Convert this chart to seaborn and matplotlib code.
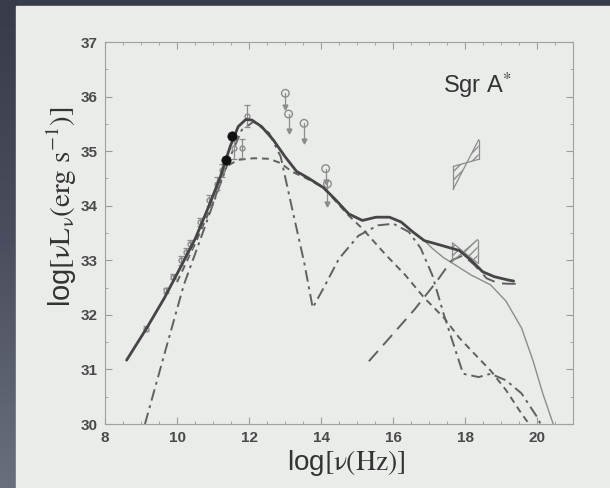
import numpy as np
import pandas as pd
import matplotlib
matplotlib.use("Agg")
import matplotlib.pyplot as plt
from matplotlib.patches import Rectangle, Polygon
from matplotlib.colors import LinearSegmentedColormap
import seaborn as sns

# ---------------- data ----------------
tot_x = [8.60, 9.16, 9.65, 10.08, 10.51, 10.89, 11.21, 11.48, 11.70, 11.91, 12.08, 12.35,
         12.67, 13.0, 13.32, 13.64, 14.07, 14.39, 14.77, 15.15, 15.53, 15.90, 16.23, 16.55,
         16.87, 17.20, 17.52, 17.84, 18.17, 18.49, 18.81, 19.19, 19.35]
tot_y = [31.17, 31.76, 32.31, 32.85, 33.40, 34.0, 34.54, 35.09, 35.45, 35.58, 35.57, 35.45,
         35.21, 34.9, 34.63, 34.51, 34.33, 34.12, 33.85, 33.73, 33.79, 33.79, 33.70, 33.52,
         33.36, 33.30, 33.24, 33.18, 33.0, 32.79, 32.70, 32.64, 32.62]

thin_x = [16.55, 16.87, 17.09, 17.40, 17.74, 18.17, 18.71, 19.14, 19.57, 19.89, 20.16, 20.45]
thin_y = [33.52, 33.36, 33.22, 33.05, 32.91, 32.73, 32.55, 32.25, 31.76, 31.16, 30.56, 30.0]

ld_x = [15.33, 16.0, 16.6, 17.2, 17.63, 17.95, 18.27, 18.6, 18.92, 19.2, 19.45]
ld_y = [31.15, 31.65, 32.1, 32.6, 33.0, 33.09, 32.91, 32.67, 32.58, 32.57, 32.57]

sd_x = [10.0, 10.5, 11.0, 11.37, 11.7, 12.13, 12.56, 12.88, 13.2, 13.6, 14.07, 14.77,
        15.15, 15.8, 16.34, 16.87, 17.41, 17.84, 18.27, 18.71, 19.14, 19.57, 19.78]
sd_y = [32.6, 33.3, 34.05, 34.72, 34.84, 34.87, 34.86, 34.78, 34.62, 34.5, 34.33, 33.82,
        33.58, 33.1, 32.73, 32.31, 31.95, 31.58, 31.28, 30.98, 30.62, 30.19, 30.0]

dd_x = [9.11, 9.65, 10.19, 10.62, 11.05, 11.48, 11.8, 12.13, 12.56, 12.88, 13.2, 13.53,
        13.77, 14.07, 14.5, 15.04, 15.58, 16.01, 16.44, 16.77, 17.09, 17.41, 17.74, 17.95,
        18.38, 18.71, 19.14, 19.57, 20.0, 20.1]
dd_y = [30.0, 31.28, 32.55, 33.33, 34.12, 34.9, 35.39, 35.54, 35.33, 34.9, 33.94, 32.97,
        32.13, 32.49, 33.03, 33.45, 33.64, 33.67, 33.52, 33.22, 32.73, 32.01, 31.34, 30.92,
        30.86, 30.92, 30.8, 30.56, 30.13, 30.0]

# radio / submm measurements with error bars
obs_x = [9.15, 9.7, 9.9, 10.1, 10.25, 10.35, 10.65, 10.9, 11.1, 11.25, 11.58, 11.8, 11.94]
obs_y = [31.75, 32.45, 32.7, 33.0, 33.15, 33.3, 33.7, 34.1, 34.4, 34.65, 35.05, 35.05, 35.65]
obs_err = [0.05, 0.05, 0.05, 0.08, 0.08, 0.08, 0.08, 0.1, 0.12, 0.12, 0.2, 0.18, 0.2]

# filled points
fill_x = [11.37, 11.53]
fill_y = [34.84, 35.27]

# upper limits (open circles with arrows)
ul_x = [13.01, 13.10, 13.53, 14.13, 14.18]
ul_y = [36.06, 35.68, 35.51, 34.68, 34.40]
ul_len = [0.25, 0.32, 0.32, 0.25, 0.37]

# X-ray bowties: left x, right x, left (low, high), right (low, high)
bow_xl = [17.67, 17.65]
bow_xr = [18.38, 18.35]
bow_yl = [(34.30, 34.72), (32.98, 33.32)]
bow_yr = [(34.85, 35.21), (32.95, 33.38)]

x_ticks = [8, 10, 12, 14, 16, 18, 20]
y_ticks = [30, 31, 32, 33, 34, 35, 36, 37]

# ---------------- figure ----------------
sns.set_theme(style="ticks")
plt.rcParams["font.family"] = ["Liberation Sans", "DejaVu Sans"]
plt.rcParams["mathtext.fontset"] = "stix"

W, H = 6.1, 4.88
fig = plt.figure(figsize=(W, H), dpi=100)
fig.patch.set_facecolor("#3c3f4d")

# background gradient (dark slide) + light panel
bg = fig.add_axes([0, 0, 1, 1], zorder=-10)
grad = np.linspace(0, 1, 256).reshape(-1, 1)
cmap = LinearSegmentedColormap.from_list("bg", ["#383b49", "#4a4e5e", "#6a6f7d"])
bg.imshow(grad, aspect="auto", cmap=cmap, extent=[0, 1, 0, 1], origin="upper")
bg.set_xlim(0, 1); bg.set_ylim(0, 1); bg.axis("off")
bg.add_patch(Rectangle((16 / 610, 0), 1, 1 - 6 / 488, color="#e9ece9", zorder=2))

ax = fig.add_axes([105 / 610, (488 - 424) / 488, (573 - 105) / 610, (424 - 42) / 488])
ax.set_facecolor("#e9ece9")

dark = "#454545"
mid = "#606060"
light = "#8c8c8c"

sns.lineplot(x=tot_x, y=tot_y, ax=ax, color=dark, lw=2.0, sort=False, estimator=None, zorder=5)
sns.lineplot(x=thin_x, y=thin_y, ax=ax, color=light, lw=1.0, sort=False, estimator=None)
sns.lineplot(x=ld_x, y=ld_y, ax=ax, color=mid, lw=1.4, sort=False, estimator=None,
             linestyle=(0, (7, 4)))
sns.lineplot(x=sd_x, y=sd_y, ax=ax, color=mid, lw=1.4, sort=False, estimator=None,
             linestyle=(0, (3.5, 2.5)))
sns.lineplot(x=dd_x, y=dd_y, ax=ax, color=mid, lw=1.4, sort=False, estimator=None,
             linestyle=(0, (6, 2.5, 1.5, 2.5)))

# observations
ax.errorbar(obs_x, obs_y, yerr=obs_err, fmt="o", ms=3.5, mfc="none", mec=light, ecolor=light,
            elinewidth=0.9, capsize=2.5, capthick=0.9, zorder=4)
sns.scatterplot(x=fill_x, y=fill_y, ax=ax, color="#111111", s=45, edgecolor="#111111", zorder=6)

# upper limits
for x, y, L in zip(ul_x, ul_y, ul_len):
    ax.plot([x, x], [y, y - L], color=light, lw=0.9, zorder=4)
    ax.plot([x], [y - L], marker="v", ms=3.5, color=light, zorder=4)
sns.scatterplot(x=ul_x, y=ul_y, ax=ax, s=30, facecolor="none", edgecolor=light, linewidth=1.0, zorder=4)

# bowties
for xl, xr, (l0, l1), (r0, r1) in zip(bow_xl, bow_xr, bow_yl, bow_yr):
    ax.plot([xl, xl], [l0, l1], color=light, lw=0.9)
    ax.plot([xr, xr], [r0, r1], color=light, lw=0.9)
    ax.plot([xl, xr], [l0, r1], color=light, lw=0.9)
    ax.plot([xl, xr], [l1, r0], color=light, lw=0.9)
    poly = Polygon([[xl, l0], [xr, r1], [xr, r0], [xl, l1]], closed=True, fill=False,
                   hatch="////", edgecolor=light, lw=0)
    ax.add_patch(poly)

ax.text(17.4, 36.2, r"Sgr A$^{*}$", fontsize=17, color="#333333", ha="left", va="center")

ax.set_xlim(8, 21)
ax.set_ylim(30, 37)
ax.set_xticks(x_ticks)
ax.set_yticks(y_ticks)
ax.set_xticks(np.arange(8, 21.01, 0.5), minor=True)
ax.set_yticks(np.arange(30, 37.01, 0.5), minor=True)
ax.tick_params(which="both", direction="in", top=True, right=True, color="#9a9a9a",
               labelcolor="#4a4a4a")
ax.tick_params(which="major", length=5, width=0.8, labelsize=11, pad=5)
ax.tick_params(which="minor", length=2.5, width=0.6)
for lab in ax.get_xticklabels() + ax.get_yticklabels():
    lab.set_fontweight("bold")
for sp in ax.spines.values():
    sp.set_color("#a0a0a0")
    sp.set_linewidth(0.8)

ax.set_xlabel(r"log$\mathrm{[\nu(Hz)]}$", fontsize=20, color="#333333")
ax.set_ylabel(r"log$\mathrm{[\nu L_{\nu}(erg\ s^{-1})]}$", fontsize=21, color="#333333")
ax.xaxis.set_label_coords(0.515, -0.062)
ax.yaxis.set_label_coords(-0.056, 0.57)

fig.savefig("out.png", dpi=100, facecolor=fig.get_facecolor())
